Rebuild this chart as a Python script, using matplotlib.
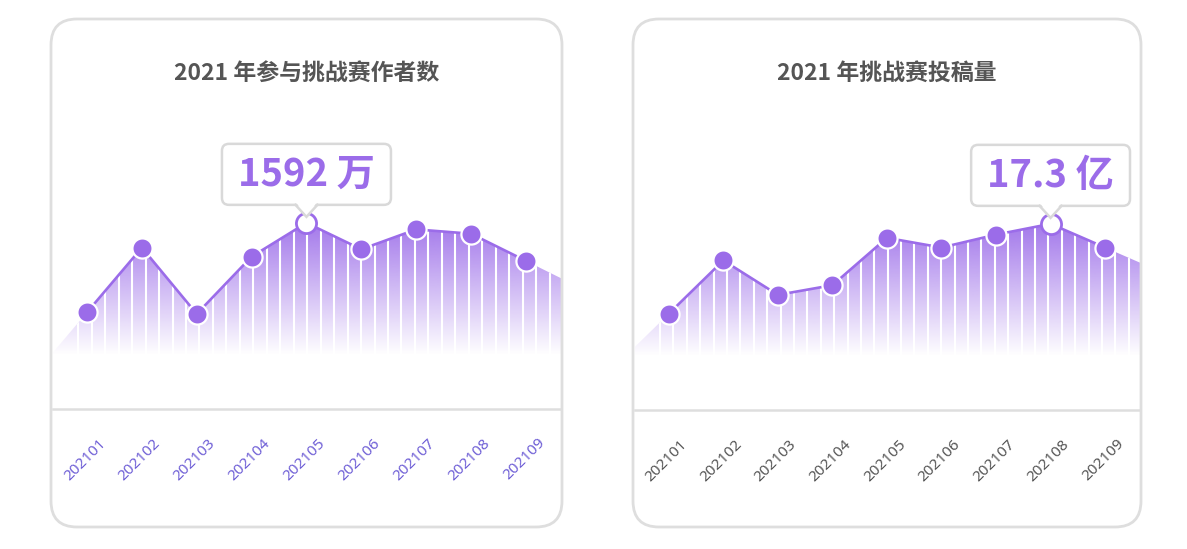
import numpy as np
import matplotlib
matplotlib.use('Agg')
import matplotlib.pyplot as plt
from matplotlib.patches import FancyBboxPatch, Polygon
from matplotlib.transforms import ScaledTranslation
from matplotlib.colors import to_rgb

plt.rcParams['font.family'] = ['Noto Sans', 'Noto Sans CJK SC', 'DejaVu Sans']
BOLD_FAMILY = ['Noto Sans CJK SC', 'DejaVu Sans']

# 数据
months = ['202101', '202102', '202103', '202104', '202105',
          '202106', '202107', '202108', '202109']
authors = [827, 1380, 813, 1303, 1592, 1366, 1536, 1499, 1267]      # 万
uploads = [8.95, 13.9, 10.7, 11.6, 16.0, 15.1, 16.3, 17.3, 15.1]    # 亿
titles = ['2021 年参与挑战赛作者数', '2021 年挑战赛投稿量']
peak_units = ['万', '亿']

PURPLE = '#9b6ce9'
BORDER = '#dedede'
TIP_BORDER = '#d9d9d9'
W, H = 1187, 549

fig = plt.figure(figsize=(W / 100, H / 100), dpi=100)
fig.patch.set_facecolor('white')

# 覆盖层, 像素坐标 (y 向下)
ov = fig.add_axes([0, 0, 1, 1], zorder=5)
ov.set_xlim(0, W)
ov.set_ylim(H, 0)
ov.axis('off')


def draw_panel(px0, px1, axis_y, values, title, unit, tick_color, fmt):
    # 外框
    ov.add_patch(FancyBboxPatch((px0, 19), px1 - px0, 508,
                                boxstyle='round,pad=0,rounding_size=26',
                                fc='none', ec=BORDER, lw=2.0))
    ov.text((px0 + px1) / 2, 73, title, ha='center', va='center',
            fontsize=16.5, fontweight='bold', color='#555555',
            family=BOLD_FAMILY)

    ax = fig.add_axes([(px0 + 2) / W, (H - axis_y) / H,
                       (px1 - px0 - 3) / W, 309 / H], zorder=1)
    x = np.arange(len(values))
    v = np.array(values, dtype=float)
    vmax = v.max()
    ymax = vmax * 1.66
    x0, x1 = -0.62, 8.64

    # 面积两端按首尾斜率延伸到边
    y_left = v[0] + (v[0] - v[1]) * (0 - x0)
    y_right = v[-1] + (v[-1] - v[-2]) * (x1 - x[-1])
    verts = [(x0, 0), (x0, y_left)] + list(zip(x, v)) + [(x1, y_right), (x1, 0)]
    poly = Polygon(verts, closed=True, fc='none', ec='none')
    ax.add_patch(poly)

    # 渐变填充
    yy = np.linspace(0, ymax, 500)
    alpha = np.clip((yy / vmax - 0.29) / 0.71, 0, 1) * 0.92
    rgba = np.zeros((500, 1, 4))
    rgba[..., :3] = to_rgb(PURPLE)
    rgba[..., 3] = alpha[:, None]
    im = ax.imshow(rgba, extent=(x0, x1, 0, ymax), origin='lower',
                   aspect='auto', interpolation='bilinear', zorder=1)
    im.set_clip_path(poly)

    # 白色竖纹
    stripes = ax.vlines(np.arange(-0.16, x1, 0.2455), 0, ymax,
                        colors='white', lw=1.5, zorder=2)
    stripes.set_clip_path(poly)

    ax.plot(x, v, color=PURPLE, lw=1.9, zorder=3)
    peak = int(np.argmax(v))
    others = [i for i in x if i != peak]
    ax.plot(x[others], v[others], 'o', ms=14.5, mfc=PURPLE, mec='white',
            mew=1.6, zorder=4)
    ax.plot([peak], [v[peak]], 'o', ms=14.5, mfc='white', mec=PURPLE,
            mew=2.0, zorder=4)

    ax.set_xlim(x0, x1)
    ax.set_ylim(0, ymax)
    ax.set_facecolor('none')
    for s in ['top', 'left', 'right']:
        ax.spines[s].set_visible(False)
    ax.spines['bottom'].set_color(BORDER)
    ax.spines['bottom'].set_linewidth(1.8)
    ax.set_yticks([])
    ax.set_xticks(x)
    ax.set_xticklabels(months, rotation=45, ha='right', va='center',
                       rotation_mode='anchor', fontsize=11, color=tick_color)
    ax.tick_params(axis='x', length=0, pad=23)
    offset = ScaledTranslation(0.165, 0, fig.dpi_scale_trans)
    for lab in ax.get_xticklabels():
        lab.set_transform(lab.get_transform() + offset)

    # 峰值提示框
    px, py = ax.transData.transform((peak, v[peak]))
    py = H - py
    box_bottom = py - 18
    box_h = 61
    t = ov.text(px, box_bottom - box_h / 2, f'{fmt(v[peak])} {unit}',
                ha='center', va='center', fontsize=27.5, fontweight='bold',
                color=PURPLE, zorder=7, family=BOLD_FAMILY)
    tw = t.get_window_extent(fig.canvas.get_renderer()).width
    bw = tw + 32
    ov.add_patch(FancyBboxPatch((px - bw / 2, box_bottom - box_h), bw, box_h,
                                boxstyle='round,pad=0,rounding_size=7',
                                fc='white', ec=TIP_BORDER, lw=1.8, zorder=5))
    tip_y = py - 6
    ov.add_patch(Polygon([(px - 10, box_bottom - 2), (px + 10, box_bottom - 2),
                          (px, tip_y)], closed=True, fc='white', ec='none',
                         zorder=6))
    ov.plot([px - 11, px, px + 11], [box_bottom, tip_y, box_bottom],
            color=TIP_BORDER, lw=1.8, zorder=6, solid_joinstyle='miter')
    return ax


draw_panel(51, 562, 409, authors, titles[0], peak_units[0], '#6f5fd6',
           lambda a: f'{a:.0f}')
draw_panel(633, 1141, 410, uploads, titles[1], peak_units[1], '#555555',
           lambda a: f'{a:.1f}')

fig.savefig('out.png', dpi=100, facecolor='white')
